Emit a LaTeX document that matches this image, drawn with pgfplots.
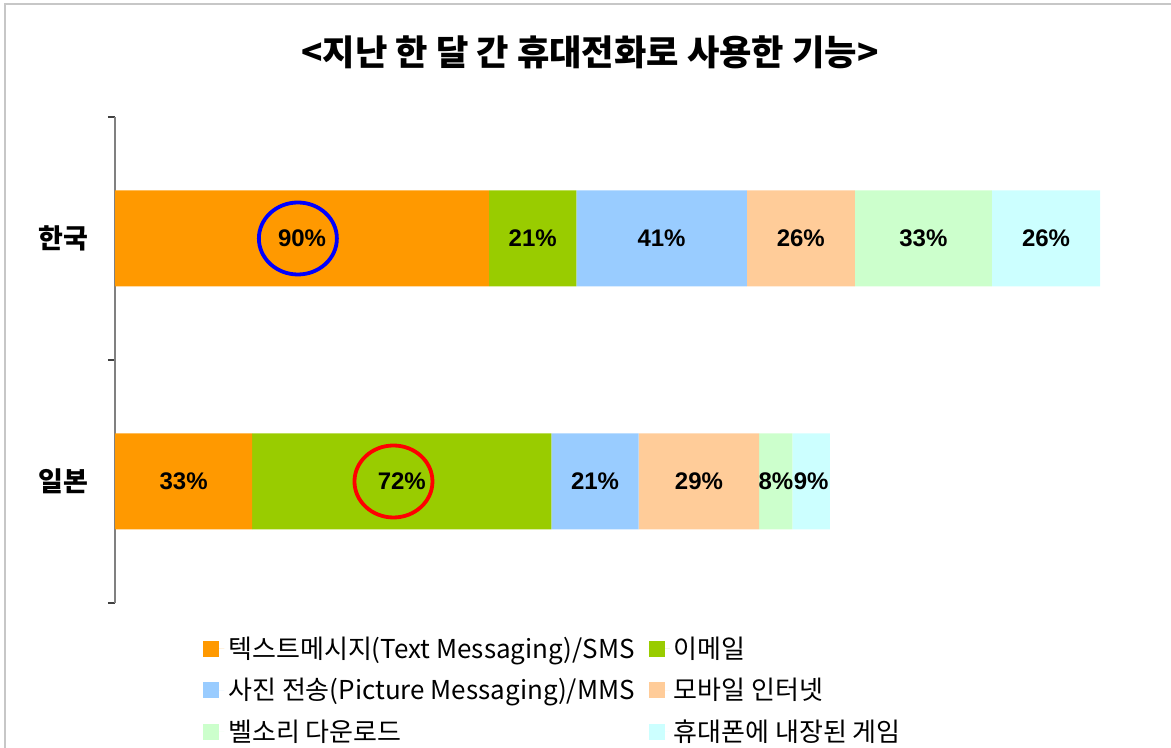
\documentclass[border=0pt]{standalone}
\usepackage{fontspec}
\usepackage{pgfplots}
\pgfplotsset{compat=1.18}
\setmainfont{Noto Sans CJK KR}
\newfontfamily\arialfont{Liberation Sans}

\definecolor{cOrange}{HTML}{FF9900}
\definecolor{cGreen}{HTML}{99CC00}
\definecolor{cBlue}{HTML}{99CCFF}
\definecolor{cPeach}{HTML}{FFCC99}
\definecolor{cMint}{HTML}{CCFFCC}
\definecolor{cCyan}{HTML}{CCFFFF}

\begin{document}
\begin{tikzpicture}
\useasboundingbox (0,0) rectangle (585.5pt,374pt);
% outer frame (only top and left are visible in the reference)
\draw[color=black!22, line width=0.8pt] (2.5pt,0) -- (2.5pt,372pt) -- (585.5pt,372pt);
\node[font=\fontsize{17.6}{19}\selectfont\bfseries] at (295pt,348pt) {<지난 한 달 간 휴대전화로 사용한 기능>};
\begin{axis}[
  at={(57.5pt,72.5pt)}, anchor=south west,
  scale only axis,
  width=500pt, height=243pt,
  xbar stacked,
  bar width=48pt,
  xmin=0, xmax=240.6,
  ymin=-0.5, ymax=1.5,
  axis x line=none,
  axis y line*=left,
  y axis line style={color=gray, line width=0.6pt},
  ytick={0,1},
  yticklabels={일본,한국},
  major tick length=0pt,
  minor ytick={-0.5,0.5,1.5},
  minor tick length=3.5pt,
  tick align=outside,
  minor tick style={color=black!75, line width=0.6pt},
  yticklabel style={font=\fontsize{13.5}{15}\selectfont\bfseries, xshift=-10pt},
  point meta=explicit symbolic,
  nodes near coords={\pgfplotspointmeta\%},
  every node near coord/.append style={anchor=center, inner sep=0pt,
    font=\arialfont\fontsize{12}{14}\selectfont\bfseries},
  legend columns=2,
  legend cell align=left,
  legend style={draw=none, fill=none, inner sep=0pt,
    at={(axis description cs:0.088,-0.06)}, anchor=north west,
    font=\fontsize{13}{15}\selectfont,
    /tikz/column 2/.style={column sep=5pt}, row sep=4.5pt},
  legend image code/.code={\fill[#1] (0pt,-4pt) rectangle (8pt,4pt);
    \path (0pt,0pt) -- (10.5pt,0pt);},
]
\addplot[fill=cOrange, draw=none] coordinates {(33,0) [33] (90,1) [90]};
\addlegendentry{텍스트메시지(Text Messaging)/SMS}
\addplot[fill=cGreen, draw=none] coordinates {(72,0) [72] (21,1) [21]};
\addlegendentry{이메일}
\addplot[fill=cBlue, draw=none] coordinates {(21,0) [21] (41,1) [41]};
\addlegendentry{사진 전송(Picture Messaging)/MMS}
\addplot[fill=cPeach, draw=none] coordinates {(29,0) [29] (26,1) [26]};
\addlegendentry{모바일 인터넷}
\addplot[fill=cMint, draw=none] coordinates {(8,0) [8] (33,1) [33]};
\addlegendentry{벨소리 다운로드}
\addplot[fill=cCyan, draw=none] coordinates {(9,0) [9] (26,1) [26]};
\addlegendentry{휴대폰에 내장된 게임}

\coordinate (hiKR) at (axis cs:44,1);
\coordinate (hiJP) at (axis cs:67,0);
\end{axis}
% highlight ellipses
\draw[blue, line width=1.9pt] (hiKR) ellipse [x radius=19.5pt, y radius=18pt];
\draw[red, line width=1.9pt] (hiJP) ellipse [x radius=19.5pt, y radius=18pt];
\end{tikzpicture}
\end{document}
